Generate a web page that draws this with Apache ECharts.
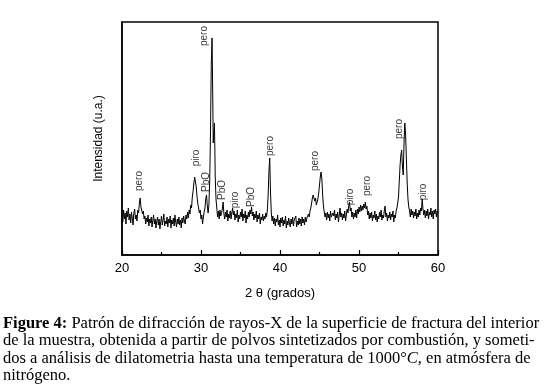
<!DOCTYPE html>
<html>
<head>
<meta charset="utf-8">
<script src="https://cdn.jsdelivr.net/npm/echarts@6/dist/echarts.min.js"></script>
<style>
  html, body { margin: 0; padding: 0; background: #fff; }
  #chart { width: 547px; height: 389px; }
</style>
</head>
<body>
<div id="chart"></div>
<script>
// 2θ (grados), intensidad (u.a.)
var pattern = [
  [20.0,40],[20.1,33],[20.2,45],[20.3,36],[20.4,42],[20.5,31],[20.6,44],[20.7,38],[20.8,47],[20.9,35],
  [21.0,41],[21.1,32],[21.2,43],[21.3,37],[21.4,30],[21.5,42],[21.6,46],[21.7,36],[21.8,40],[21.9,34],
  [22.0,45],[22.1,42],[22.2,52],[22.3,57],[22.4,48],[22.5,50],[22.6,41],[22.7,44],[22.8,36],[22.9,39],
  [23.0,31],[23.1,37],[23.2,33],[23.3,40],[23.4,29],[23.5,36],[23.6,32],[23.7,38],[23.8,28],[23.9,35],
  [24.0,40],[24.1,31],[24.2,36],[24.3,27],[24.4,34],[24.5,38],[24.6,30],[24.7,36],[24.8,26],[24.9,33],
  [25.0,39],[25.1,30],[25.2,35],[25.3,41],[25.4,29],[25.5,34],[25.6,31],[25.7,38],[25.8,28],[25.9,36],
  [26.0,32],[26.1,39],[26.2,27],[26.3,35],[26.4,31],[26.5,37],[26.6,29],[26.7,40],[26.8,33],[26.9,28],
  [27.0,36],[27.1,31],[27.2,38],[27.3,30],[27.4,35],[27.5,27],[27.6,37],[27.7,32],[27.8,39],[27.9,34],
  [28.0,31],[28.1,40],[28.2,36],[28.3,43],[28.4,37],[28.5,45],[28.6,41],[28.7,50],[28.8,47],[28.9,58],
  [29.0,64],[29.1,72],[29.2,78],[29.3,80],[29.4,68],[29.5,58],[29.6,51],[29.7,47],[29.8,42],[29.9,45],
  [30.0,36],[30.1,40],[30.2,31],[30.3,38],[30.4,43],[30.5,47],[30.6,56],[30.7,60],[30.8,49],[30.9,42],
  [31.0,50],[31.1,74],[31.2,120],[31.3,190],[31.4,217],[31.5,150],[31.55,112],[31.6,120],[31.7,132],[31.75,108],
  [31.8,78],[31.9,56],[32.0,47],[32.1,38],[32.2,44],[32.3,36],[32.4,45],[32.5,39],[32.6,42],[32.7,46],
  [32.8,53],[32.9,41],[33.0,36],[33.1,43],[33.2,38],[33.3,45],[33.4,34],[33.5,41],[33.6,37],[33.7,44],
  [33.8,36],[33.9,42],[34.0,47],[34.1,40],[34.2,44],[34.3,35],[34.4,41],[34.5,37],[34.6,45],[34.7,33],
  [34.8,40],[34.9,36],[35.0,43],[35.1,38],[35.2,46],[35.3,34],[35.4,41],[35.5,37],[35.6,44],[35.7,32],
  [35.8,40],[35.9,36],[36.0,43],[36.1,38],[36.2,45],[36.3,41],[36.4,48],[36.5,39],[36.6,43],[36.7,35],
  [36.8,41],[36.9,37],[37.0,44],[37.1,33],[37.2,40],[37.3,36],[37.4,42],[37.5,31],[37.6,38],[37.7,35],
  [37.8,41],[37.9,34],[38.0,39],[38.1,36],[38.2,42],[38.3,38],[38.4,45],[38.5,60],[38.6,84],[38.7,97],
  [38.8,62],[38.9,42],[39.0,34],[39.1,39],[39.2,31],[39.3,37],[39.4,29],[39.5,36],[39.6,33],[39.7,40],
  [39.8,30],[39.9,35],[40.0,28],[40.1,37],[40.2,32],[40.3,38],[40.4,29],[40.5,35],[40.6,31],[40.7,39],
  [40.8,27],[40.9,34],[41.0,30],[41.1,37],[41.2,32],[41.3,28],[41.4,36],[41.5,31],[41.6,38],[41.7,29],
  [41.8,35],[41.9,33],[42.0,39],[42.1,28],[42.2,34],[42.3,30],[42.4,37],[42.5,31],[42.6,36],[42.7,29],
  [42.8,38],[42.9,32],[43.0,36],[43.1,30],[43.2,38],[43.3,33],[43.4,37],[43.5,35],[43.6,41],[43.7,38],
  [43.8,44],[43.9,47],[44.0,52],[44.1,57],[44.2,60],[44.3,62],[44.4,54],[44.5,57],[44.6,50],[44.7,52],
  [44.8,56],[44.9,62],[45.0,70],[45.1,78],[45.2,83],[45.3,76],[45.4,60],[45.5,49],[45.6,43],[45.7,38],
  [45.8,42],[45.9,35],[46.0,43],[46.1,37],[46.2,41],[46.3,34],[46.4,44],[46.5,38],[46.6,36],[46.7,42],
  [46.8,39],[46.9,45],[47.0,35],[47.1,41],[47.2,37],[47.3,43],[47.4,33],[47.5,40],[47.6,47],[47.7,38],
  [47.8,42],[47.9,35],[48.0,41],[48.1,37],[48.2,44],[48.3,34],[48.4,40],[48.5,46],[48.6,42],[48.7,49],
  [48.8,53],[48.9,44],[49.0,47],[49.1,38],[49.2,43],[49.3,36],[49.4,42],[49.5,38],[49.6,45],[49.7,37],
  [49.8,46],[49.9,41],[50.0,48],[50.1,43],[50.2,50],[50.3,44],[50.4,49],[50.5,45],[50.6,51],[50.7,47],
  [50.8,53],[50.9,46],[51.0,49],[51.1,40],[51.2,44],[51.3,36],[51.4,42],[51.5,37],[51.6,43],[51.7,34],
  [51.8,40],[51.9,37],[52.0,44],[52.1,35],[52.2,41],[52.3,33],[52.4,39],[52.5,36],[52.6,43],[52.7,38],
  [52.8,45],[52.9,35],[53.0,40],[53.1,37],[53.2,44],[53.3,49],[53.4,38],[53.5,42],[53.6,34],[53.7,40],
  [53.8,37],[53.9,43],[54.0,35],[54.1,41],[54.2,38],[54.3,44],[54.4,33],[54.5,40],[54.6,37],[54.7,44],
  [54.8,47],[54.9,52],[55.0,58],[55.1,74],[55.2,90],[55.3,100],[55.4,105],[55.5,88],[55.6,80],[55.7,112],
  [55.8,132],[55.9,120],[56.0,96],[56.1,72],[56.2,56],[56.3,48],[56.4,44],[56.5,38],[56.6,46],[56.7,40],
  [56.8,44],[56.9,37],[57.0,43],[57.1,39],[57.2,46],[57.3,36],[57.4,42],[57.5,38],[57.6,45],[57.7,40],
  [57.8,47],[57.9,44],[58.0,56],[58.1,46],[58.2,40],[58.3,45],[58.4,37],[58.5,44],[58.6,39],[58.7,46],
  [58.8,36],[58.9,43],[59.0,40],[59.1,47],[59.2,38],[59.3,44],[59.4,36],[59.5,45],[59.6,41],[59.7,46],
  [59.8,38],[59.9,44],[60.0,42]
];

// identificacion de fases: [2θ, altura, texto]
var phaseLabels = [
  [22.2, 74, 'pero'],
  [29.4, 97, 'piro'],
  [30.7, 73, 'PbO'],
  [30.4, 219, 'pero'],
  [32.7, 65, 'PbO'],
  [34.35, 55, 'piro'],
  [36.4, 58, 'PbO'],
  [38.8, 109, 'pero'],
  [44.5, 94, 'pero'],
  [48.95, 58, 'piro'],
  [51.0, 69, 'pero'],
  [55.05, 126, 'pero'],
  [58.1, 63, 'piro']
];

var xTicks = [20, 30, 40, 50, 60];

var captionLines = [
  '{b|Figure 4:} Patrón de difracción de rayos-X de la superficie de fractura del interior',
  'de la muestra, obtenida a partir de polvos sintetizados por combustión, y someti-',
  'dos a análisis de dilatometria hasta una temperatura de 1000°{i|C}, en atmósfera de',
  'nitrógeno.'
];

var chart = echarts.init(document.getElementById('chart'));

var serif = '"Liberation Serif", serif';
var captionGraphics = captionLines.map(function (t, i) {
  return {
    type: 'text',
    left: 3,
    top: 315 + i * 17.5,
    style: {
      text: t,
      font: '16.5px ' + serif,
      fill: '#000',
      rich: {
        b: { fontWeight: 'bold', fontSize: 16.5, fontFamily: serif },
        i: { fontStyle: 'italic', fontSize: 16.5, fontFamily: serif }
      }
    }
  };
});

var option = {
  animation: false,
  backgroundColor: '#fff',
  grid: {
    left: 122,
    right: 109,
    top: 22,
    bottom: 134,
    show: true,
    borderColor: '#000',
    borderWidth: 1.5,
    backgroundColor: 'transparent'
  },
  xAxis: {
    type: 'value',
    min: xTicks[0],
    max: xTicks[xTicks.length - 1],
    interval: 10,
    name: '2 θ (grados)',
    nameLocation: 'middle',
    nameGap: 32,
    nameTextStyle: { fontFamily: '"Liberation Sans", Arial, sans-serif', fontSize: 13, color: '#000' },
    axisLine: { lineStyle: { color: '#000', width: 1.5 } },
    axisTick: { inside: true, length: 5, lineStyle: { color: '#000', width: 1.2 } },
    minorTick: { show: true, splitNumber: 2, length: 3, lineStyle: { color: '#000', width: 1.2 } },
    axisLabel: { fontFamily: '"Liberation Sans", Arial, sans-serif', fontSize: 13, color: '#000', margin: 7 },
    splitLine: { show: false }
  },
  yAxis: {
    type: 'value',
    min: 0,
    max: 233,
    name: 'Intensidad (u.a.)',
    nameLocation: 'middle',
    nameGap: 17,
    nameTextStyle: { fontFamily: '"Liberation Sans", Arial, sans-serif', fontSize: 12, color: '#000' },
    axisLine: { show: true, lineStyle: { color: '#000', width: 1.5 } },
    axisTick: { show: false },
    axisLabel: { show: false },
    splitLine: { show: false }
  },
  series: [
    {
      type: 'line',
      data: pattern,
      showSymbol: false,
      lineStyle: { color: '#000', width: 1 },
      z: 2
    },
    {
      type: 'scatter',
      data: phaseLabels,
      symbolSize: 0,
      silent: true,
      label: {
        show: true,
        position: 'inside',
        rotate: 90,
        formatter: function (p) { return p.value[2]; },
        fontFamily: '"Liberation Sans", Arial, sans-serif',
        fontSize: 10,
        color: '#000'
      },
      z: 3
    }
  ],
  graphic: captionGraphics
};

chart.setOption(option);
</script>
</body>
</html>
